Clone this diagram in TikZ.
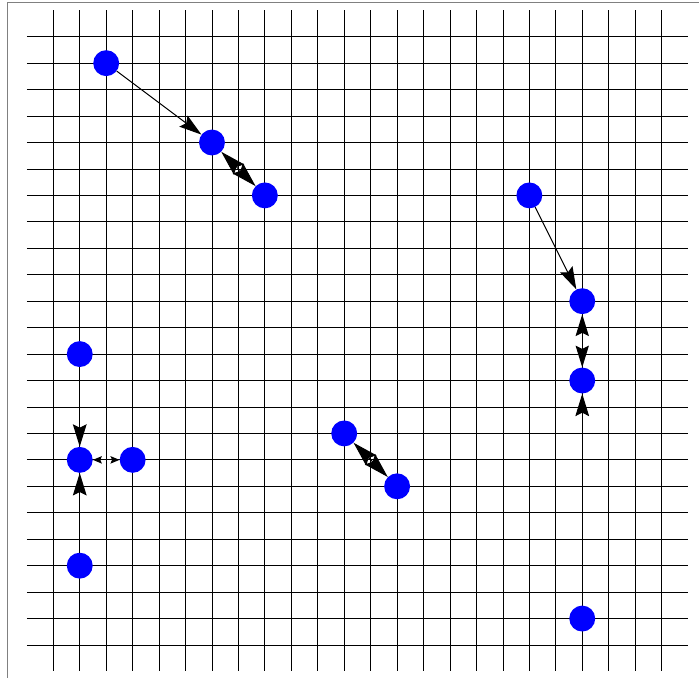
\documentclass[tikz,border=0pt]{standalone}
\usetikzlibrary{arrows.meta}
\tikzset{
  gridline/.style={black, line width=0.8pt},
  dot/.style={circle, fill=blue, draw=none, minimum size=0.98cm, inner sep=0pt},
  edge/.style={black, line width=1.1pt},
  onehead/.style={edge, -{Stealth[length=0.85cm, width=0.52cm, inset=0.13cm]}},
  twoheads/.style={edge, {Stealth[length=0.82cm, width=0.5cm, inset=0.12cm]}-{Stealth[length=0.82cm, width=0.5cm, inset=0.12cm]}},
  diagheads/.style={edge, {Stealth[length=0.95cm, width=0.55cm, inset=0.14cm]}-{Stealth[length=0.95cm, width=0.55cm, inset=0.14cm]}},
  smallheads/.style={edge, {Stealth[length=0.34cm, width=0.28cm, inset=0.06cm]}-{Stealth[length=0.34cm, width=0.28cm, inset=0.06cm]}},
}
\begin{document}
\begin{tikzpicture}[x=1cm,y=-1cm]
\useasboundingbox (0,0) rectangle (26.43,25.63);
\begin{scope}
  \clip (0,0) rectangle (26.43,25.63);
  \draw[gray, line width=1.2pt] (0.30,0.08) rectangle (28,28);
\end{scope}
\begin{scope}[shift={(2.015,1.388)}]
  \foreach \i in {0,...,23} {
    \draw[gridline] (\i,-1) -- (\i,24);
    \draw[gridline] (-1,\i) -- (24,\i);
  }
  \node[dot] (n1) at (2,1) {};
  \node[dot] (n2) at (6,4) {};
  \node[dot] (n3) at (8,6) {};
  \node[dot] (n4) at (18,6) {};
  \node[dot] (n5) at (20,10) {};
  \node[dot] (n6) at (20,13) {};
  \node[dot] (n7) at (20,22) {};
  \node[dot] (n8) at (1,12) {};
  \node[dot] (n9) at (1,16) {};
  \node[dot] (n10) at (3,16) {};
  \node[dot] (n11) at (1,20) {};
  \node[dot] (n12) at (11,15) {};
  \node[dot] (n13) at (13,17) {};

  \draw[onehead] (n1) -- (n2);
  \draw[diagheads] (n2) -- (n3);
  \draw[onehead] (n4) -- (n5);
  \draw[twoheads] (n5) -- (n6);
  \draw[onehead] (n7) -- (n6);
  \draw[onehead] (n8) -- (n9);
  \draw[onehead] (n11) -- (n9);
  \draw[smallheads] (n9) -- (n10);
  \draw[diagheads] (n12) -- (n13);
\end{scope}
\end{tikzpicture}
\end{document}
